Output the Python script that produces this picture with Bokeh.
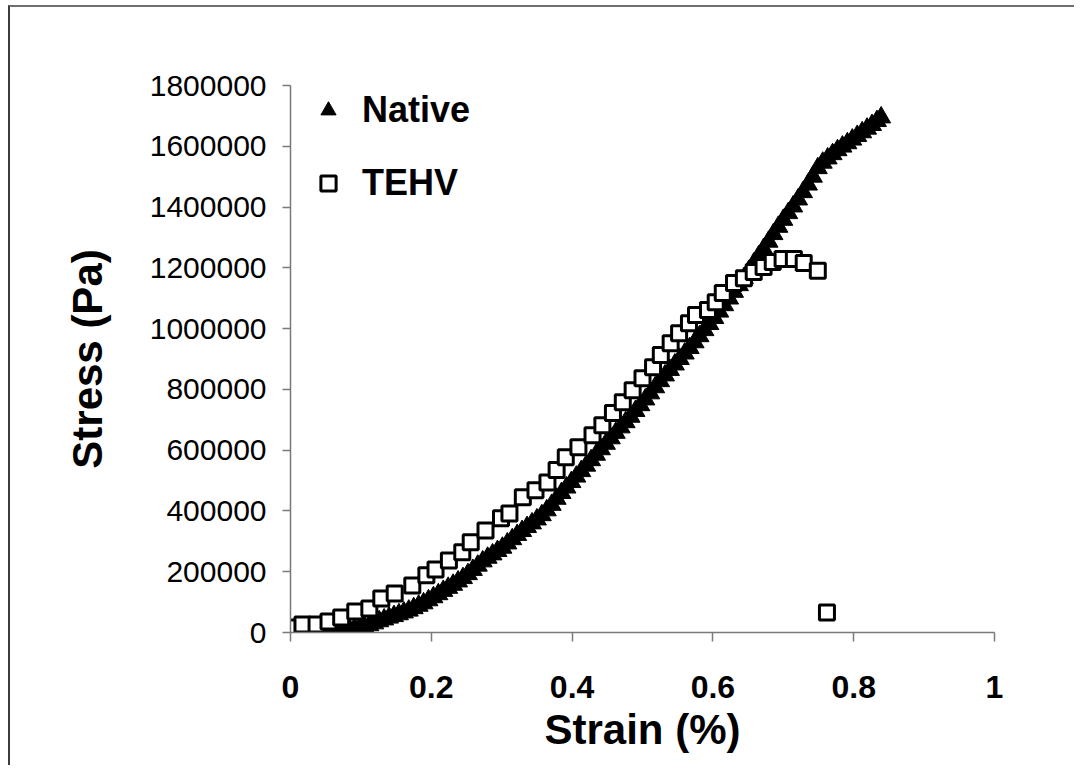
from bokeh.plotting import figure
from bokeh.models import Range1d, FixedTicker, Legend, LegendItem
from bokeh.embed import file_html
from bokeh.resources import INLINE

# ---- data ----
native_strain = [0.000, 0.007, 0.014, 0.021, 0.028, 0.035, 0.042, 0.049, 0.056, 0.063,
                 0.070, 0.077, 0.084, 0.091, 0.098, 0.105, 0.112, 0.119, 0.126, 0.133,
                 0.140, 0.147, 0.154, 0.161, 0.168, 0.175, 0.182, 0.189, 0.196, 0.203,
                 0.210, 0.217, 0.224, 0.231, 0.238, 0.245, 0.252, 0.259, 0.266, 0.273,
                 0.280, 0.287, 0.294, 0.301, 0.308, 0.315, 0.322, 0.329, 0.336, 0.343,
                 0.350, 0.357, 0.364, 0.371, 0.378, 0.385, 0.392, 0.399, 0.406, 0.413,
                 0.420, 0.427, 0.434, 0.441, 0.448, 0.455, 0.462, 0.469, 0.476, 0.483,
                 0.490, 0.497, 0.504, 0.511, 0.518, 0.525, 0.532, 0.539, 0.546, 0.553,
                 0.560, 0.567, 0.574, 0.581, 0.588, 0.595, 0.602, 0.609, 0.616, 0.623,
                 0.630, 0.637, 0.644, 0.651, 0.658, 0.665, 0.672, 0.679, 0.686, 0.693,
                 0.700, 0.707, 0.714, 0.721, 0.728, 0.735, 0.742, 0.749, 0.756, 0.763,
                 0.770, 0.777, 0.784, 0.791, 0.798, 0.805, 0.812, 0.819, 0.826, 0.833,
                 0.839]
native_stress = [2000, 1000, 0, 0, 1000, 1000, 2000, 2000, 3000, 4000,
                 5000, 7000, 9000, 12000, 15000, 19000, 24000, 30000, 37000, 43000,
                 49000, 54000, 60000, 66000, 72000, 80000, 88000, 96000, 106000, 116000,
                 126000, 137000, 147000, 157000, 168000, 179000, 192000, 206000, 220000, 234000,
                 246000, 257000, 268000, 279000, 293000, 307000, 321000, 334000, 347000, 359000,
                 372000, 386000, 402000, 420000, 440000, 459000, 477000, 495000, 513000, 531000,
                 549000, 567000, 585000, 603000, 621000, 639000, 657000, 675000, 692000, 710000,
                 729000, 748000, 767000, 787000, 807000, 827000, 846000, 864000, 882000, 900000,
                 918000, 936000, 955000, 975000, 995000, 1015000, 1035000, 1056000, 1077000, 1099000,
                 1121000, 1143000, 1166000, 1190000, 1214000, 1238000, 1262000, 1286000, 1311000, 1335000,
                 1358000, 1380000, 1402000, 1425000, 1449000, 1474000, 1500000, 1528000, 1546000, 1560000,
                 1574000, 1587000, 1599000, 1610000, 1622000, 1634000, 1646000, 1658000, 1670000, 1683000,
                 1695000]

tehv_strain = [0.000, 0.017, 0.037, 0.054, 0.072, 0.092, 0.112, 0.129, 0.148, 0.173,
               0.193, 0.206, 0.225, 0.244, 0.256, 0.277, 0.299, 0.311, 0.330, 0.348,
               0.365, 0.378, 0.391, 0.409, 0.429, 0.443, 0.458, 0.472, 0.486, 0.500,
               0.515, 0.526, 0.540, 0.552, 0.566, 0.576, 0.593, 0.604, 0.614, 0.630,
               0.644, 0.658, 0.672, 0.685, 0.699, 0.715, 0.729, 0.749, 0.762]
tehv_stress = [16500, 26000, 26000, 36000, 49000, 69000, 79000, 112000, 128000, 155000,
               188000, 207000, 237000, 264000, 297000, 336000, 376000, 392000, 445000, 468000,
               494000, 535000, 577000, 610000, 649000, 682000, 722000, 758000, 797000, 837000,
               873000, 913000, 952000, 985000, 1018000, 1045000, 1061000, 1087000, 1117000, 1150000,
               1166000, 1186000, 1203000, 1219000, 1229000, 1229000, 1216000, 1190000, 66000]

series_names = ["Native", "TEHV"]

x_ticks = [0, 0.2, 0.4, 0.6, 0.8, 1]
x_tick_labels = ["0", "0.2", "0.4", "0.6", "0.8", "1"]
y_ticks = [0, 200000, 400000, 600000, 800000, 1000000, 1200000, 1400000, 1600000, 1800000]
y_tick_labels = ["0", "200000", "400000", "600000", "800000", "1000000",
                 "1200000", "1400000", "1600000", "1800000"]

FONT = "Liberation Sans"
AXIS_GRAY = "#7a7a7a"

p = figure(width=1066, height=760, output_backend="svg", toolbar_location=None,
           x_range=Range1d(0, 1), y_range=Range1d(0, 1800000),
           min_border_left=280, min_border_right=82, min_border_top=78, min_border_bottom=135,
           background_fill_color="white", border_fill_color="white",
           outline_line_color=None)
p.styles = {"margin-left": "8px", "margin-top": "5px",
            "border-top": "2px solid #6e6e6e", "border-left": "2px solid #3c3c3c"}
p.grid.visible = False

r_native = p.scatter(native_strain, native_stress, marker="triangle", size=19,
                     fill_color="black", line_color="black", line_width=1)
r_tehv = p.scatter(tehv_strain, tehv_stress, marker="square", size=15,
                   fill_color="white", line_color="black", line_width=3)

# x axis
xa = p.xaxis[0]
xa.ticker = FixedTicker(ticks=x_ticks)
xa.major_label_overrides = dict(zip(x_ticks, x_tick_labels))
xa.axis_label = "Strain (%)"
xa.axis_line_color = AXIS_GRAY
xa.axis_line_width = 1.5
xa.major_tick_line_color = AXIS_GRAY
xa.major_tick_line_width = 1.5
xa.major_tick_in = 0
xa.major_tick_out = 9
xa.minor_tick_line_color = None
xa.major_label_text_font = FONT
xa.major_label_text_font_style = "bold"
xa.major_label_text_font_size = "32px"
xa.major_label_text_color = "black"
xa.major_label_standoff = 34
xa.axis_label_text_font = FONT
xa.axis_label_text_font_style = "bold"
xa.axis_label_text_font_size = "42px"
xa.axis_label_text_color = "black"
xa.axis_label_standoff = 5

# y axis
ya = p.yaxis[0]
ya.ticker = FixedTicker(ticks=y_ticks)
ya.major_label_overrides = dict(zip(y_ticks, y_tick_labels))
ya.axis_label = "Stress (Pa)"
ya.axis_line_color = AXIS_GRAY
ya.axis_line_width = 1.5
ya.major_tick_line_color = AXIS_GRAY
ya.major_tick_line_width = 1.5
ya.major_tick_in = 0
ya.major_tick_out = 8
ya.minor_tick_line_color = None
ya.major_label_text_font = FONT
ya.major_label_text_font_style = "normal"
ya.major_label_text_font_size = "30px"
ya.major_label_text_color = "black"
ya.major_label_standoff = 16
ya.axis_label_text_font = FONT
ya.axis_label_text_font_style = "bold"
ya.axis_label_text_font_size = "42px"
ya.axis_label_text_color = "black"
ya.axis_label_standoff = 36

legend = Legend(items=[LegendItem(label=series_names[0], renderers=[r_native]),
                       LegendItem(label=series_names[1], renderers=[r_tehv])],
                location="top_left", margin=4, padding=4,
                glyph_width=68, glyph_height=38, label_height=38, label_standoff=0,
                spacing=31, border_line_color=None, background_fill_alpha=0,
                label_text_font=FONT, label_text_font_style="bold",
                label_text_font_size="36px", label_text_color="black")
p.add_layout(legend)

open("out.html", "w").write(file_html(p, INLINE))
